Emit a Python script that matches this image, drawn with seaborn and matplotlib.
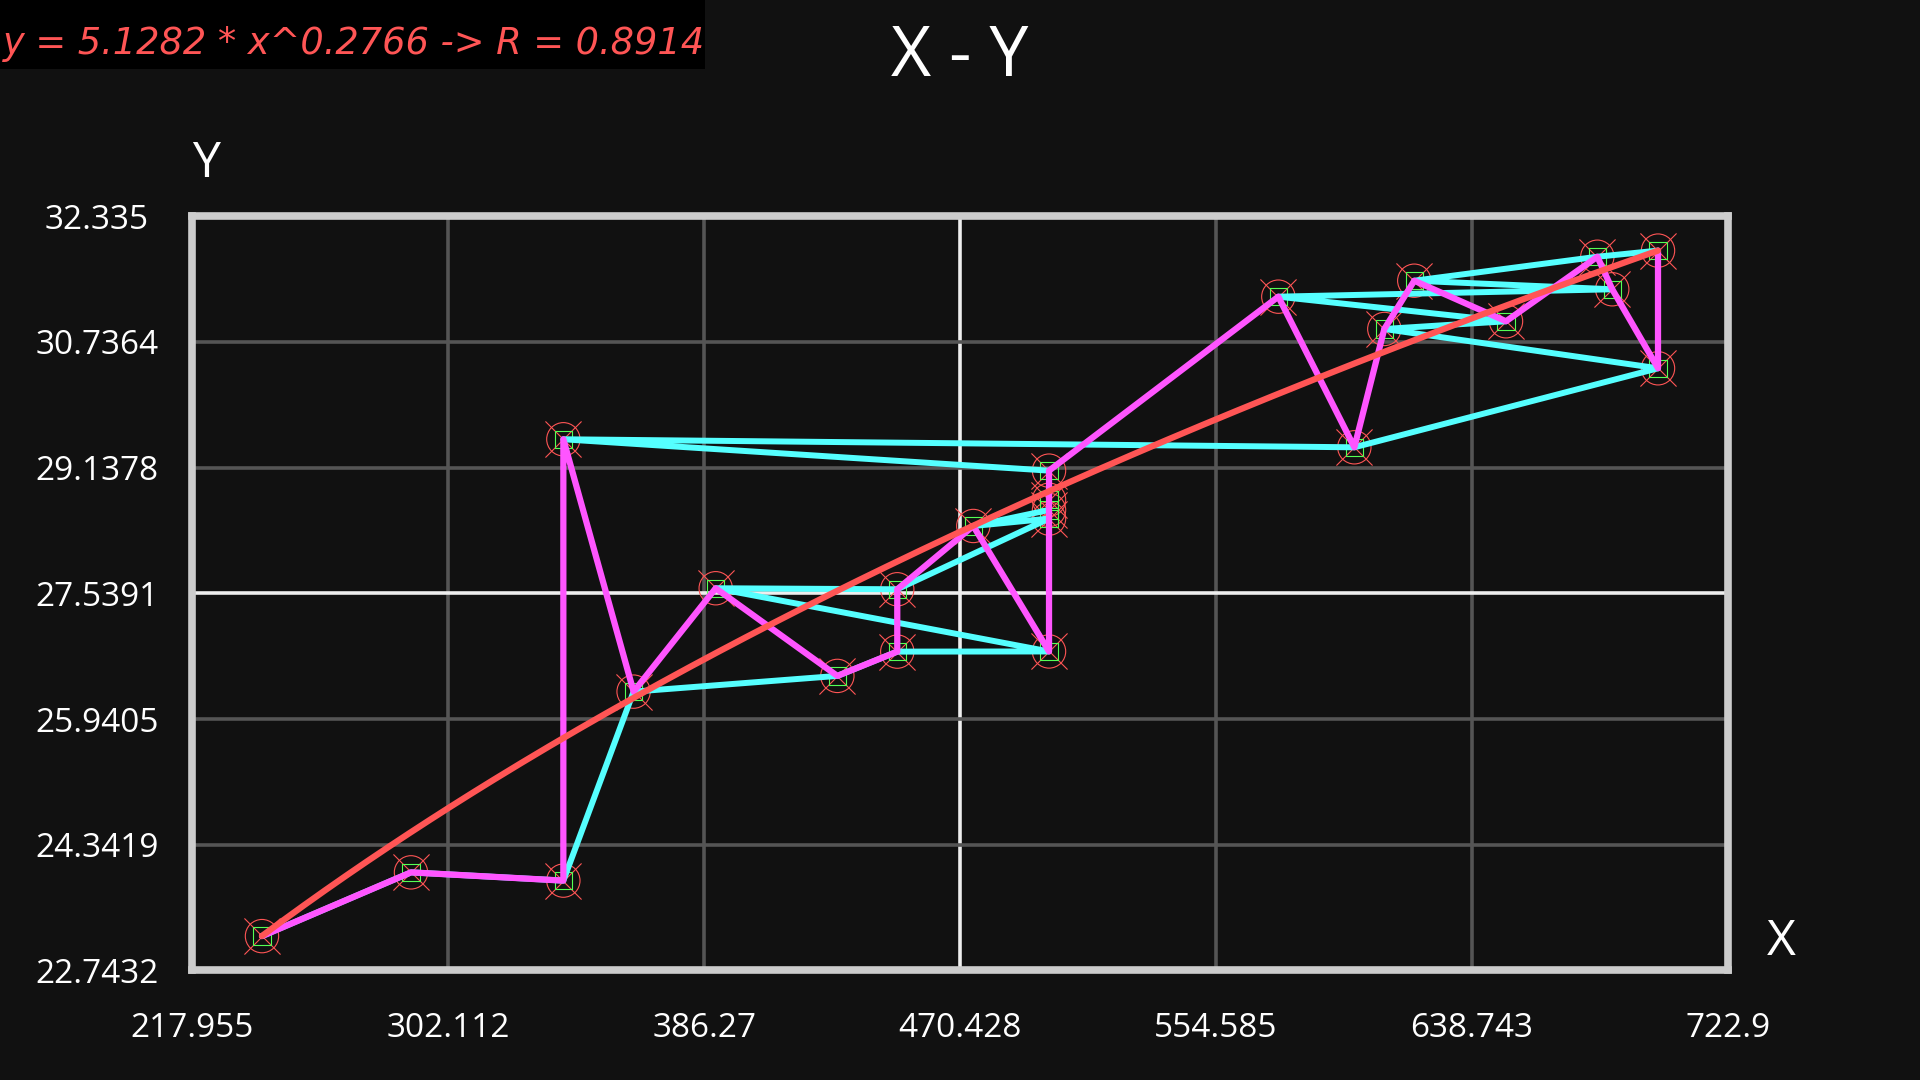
import numpy as np
import pandas as pd
import seaborn as sns
import matplotlib.pyplot as plt
from matplotlib.patches import Rectangle

# data, in the order it was recorded
x_vals = [240.9, 289.9, 340.0, 363.1, 430.1, 449.8, 499.7, 390.1, 449.8, 499.7,
          474.8, 499.7, 499.7, 499.7, 340.0, 600.1, 699.95, 609.95, 649.97, 575.1,
          684.9, 619.8, 680.0, 699.95]
y_vals = [23.179, 23.99, 23.885, 26.289, 26.489, 26.798, 26.80, 27.604, 27.591, 28.49,
          28.396, 28.60, 28.73, 29.10, 29.499, 29.397, 30.402, 30.902, 31.0, 31.313,
          31.407, 31.516, 31.821, 31.899]

# power curve as drawn in the chart
fit_a = 4.49
fit_b = 0.2993
fit_label = "y = 5.1282 * x^0.2766 -> R = 0.8914"

x_ticks = [217.955, 302.112, 386.27, 470.428, 554.585, 638.743, 722.9]
x_tick_labels = ["217.955", "302.112", "386.27", "470.428", "554.585", "638.743", "722.9"]
y_ticks = [22.7432, 24.3419, 25.9405, 27.5391, 29.1378, 30.7364, 32.335]
y_tick_labels = ["22.7432", "24.3419", "25.9405", "27.5391", "29.1378", "30.7364", "32.335"]

df = pd.DataFrame({"x": x_vals, "y": y_vals})

bg = "#111111"
cyan = "#55ffff"
magenta = "#ff55ff"
red = "#ff5555"
green = "#55ff55"

sns.set_theme(style="dark", rc={"figure.facecolor": bg, "axes.facecolor": bg})
plt.rcParams["font.family"] = ["Open Sans", "DejaVu Sans"]

fig = plt.figure(figsize=(19.2, 10.8), dpi=100)
ax = fig.add_axes([0.1001, 0.1015, 0.7998, 0.6982])

# markers: red circle + cross, green square
sns.scatterplot(data=df, x="x", y="y", marker="o", s=24 ** 2, facecolors="none",
                edgecolor=red, linewidth=0.8, ax=ax, zorder=3)
sns.scatterplot(data=df, x="x", y="y", marker="x", s=26 ** 2, color=red,
                linewidth=0.8, ax=ax, zorder=3)
sns.scatterplot(data=df, x="x", y="y", marker="s", s=12.5 ** 2, facecolors="none",
                edgecolor=green, linewidth=0.8, ax=ax, zorder=3)

# cyan: original order, magenta: sorted by x
sns.lineplot(data=df, x="x", y="y", sort=False, estimator=None, color=cyan,
             linewidth=4.3, ax=ax, zorder=4)
sns.lineplot(data=df, x="x", y="y", sort=True, estimator=None, color=magenta,
             linewidth=4.5, ax=ax, zorder=5)

# fitted curve
fx = np.linspace(min(x_vals), max(x_vals), 200)
ax.plot(fx, fit_a * fx ** fit_b, color=red, linewidth=4.5, zorder=6)

ax.set_xlim(x_ticks[0], x_ticks[-1])
ax.set_ylim(y_ticks[0], y_ticks[-1])
ax.set_xticks(x_ticks)
ax.set_xticklabels(x_tick_labels)
ax.set_yticks(y_ticks)
ax.set_yticklabels(y_tick_labels)
ax.set_xlabel("")
ax.set_ylabel("")

ax.tick_params(length=0, labelsize=24, labelcolor="white")
ax.tick_params(axis="y", pad=68.8)
ax.tick_params(axis="x", pad=30)
for lab in ax.get_yticklabels():
    lab.set_horizontalalignment("center")
    lab.set_verticalalignment("center_baseline")

ax.grid(True, color="#555555", linewidth=2.6, zorder=1)
ax.set_axisbelow(True)
ax.xaxis.get_gridlines()[3].set_color("#eeeeee")
ax.yaxis.get_gridlines()[3].set_color("#eeeeee")

for sp in ax.spines.values():
    sp.set_visible(True)
    sp.set_color("#cccccc")
    sp.set_linewidth(5.5)

# titles and axis names
fig.text(0.5, 1 - 58 / 1080, "X - Y", fontsize=50, color="white", ha="center", va="center")
fig.text(205.7 / 1920, 1 - 164 / 1080, "Y", fontsize=36, color="white", ha="center", va="center")
fig.text(1781.7 / 1920, 1 - 942 / 1080, "X", fontsize=36, color="white", ha="center", va="center")

# formula box in the corner
fig.patches.append(Rectangle((0, 1 - 68.5 / 1080), 705 / 1920, 68.5 / 1080,
                             transform=fig.transFigure, facecolor="black",
                             edgecolor="none", zorder=0))
fig.text(3 / 1920, 1 - 43 / 1080, fit_label, fontsize=26.5, color=red,
         ha="left", va="center", family=["DejaVu Sans"], style="oblique")

fig.savefig("out.png", dpi=100, facecolor=bg)
